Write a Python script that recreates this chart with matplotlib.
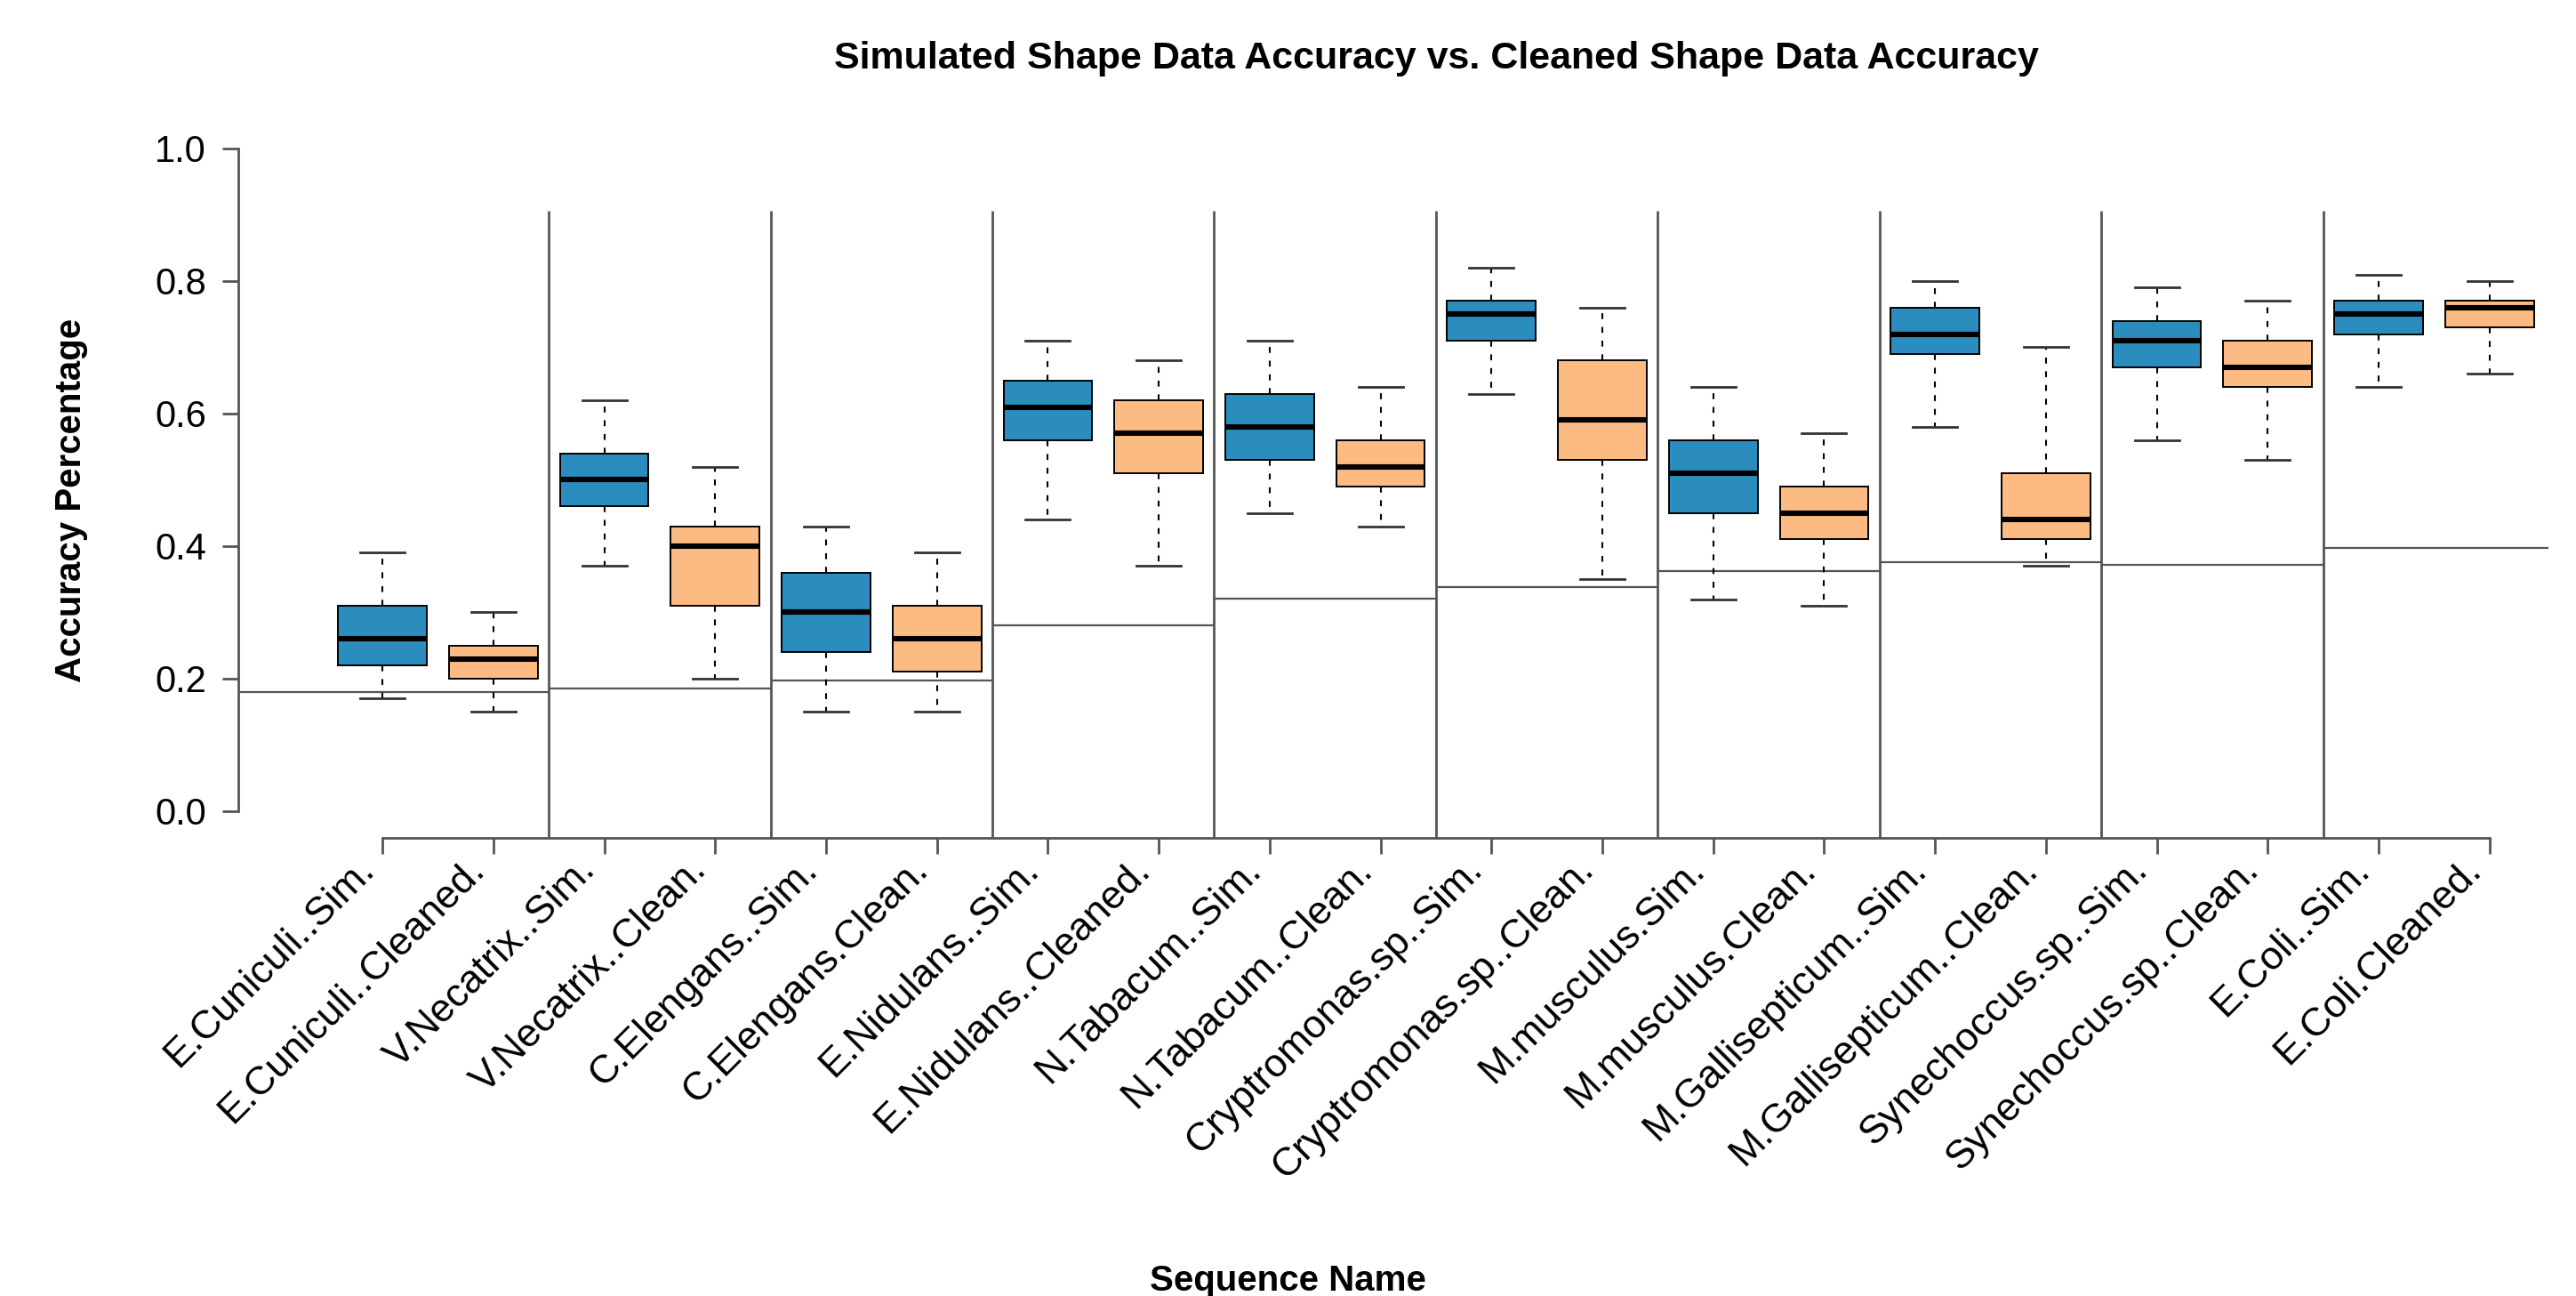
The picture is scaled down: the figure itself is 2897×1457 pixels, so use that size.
import matplotlib
matplotlib.use("Agg")
import matplotlib.pyplot as plt
from matplotlib.transforms import ScaledTranslation

plt.rcParams['font.family'] = ['Liberation Sans', 'DejaVu Sans']

# ---------------- data ----------------
labels = ["E.Cuniculi..Sim.", "E.Cuniculi..Cleaned.", "V.Necatrix..Sim.", "V.Necatrix..Clean.",
          "C.Elengans..Sim.", "C.Elengans.Clean.", "E.Nidulans..Sim.", "E.Nidulans..Cleaned.",
          "N.Tabacum..Sim.", "N.Tabacum..Clean.", "Cryptromonas.sp..Sim.", "Cryptromonas.sp..Clean.",
          "M.musculus.Sim.", "M.musculus.Clean.", "M.Gallisepticum..Sim.", "M.Gallisepticum..Clean.",
          "Synechoccus.sp..Sim.", "Synechoccus.sp..Clean.", "E.Coli..Sim.", "E.Coli.Cleaned."]
whis_low = [0.17, 0.15, 0.37, 0.20, 0.15, 0.15, 0.44, 0.37, 0.45, 0.43,
            0.63, 0.35, 0.32, 0.31, 0.58, 0.37, 0.56, 0.53, 0.64, 0.66]
q1 = [0.22, 0.20, 0.46, 0.31, 0.24, 0.21, 0.56, 0.51, 0.53, 0.49,
      0.71, 0.53, 0.45, 0.41, 0.69, 0.41, 0.67, 0.64, 0.72, 0.73]
median = [0.26, 0.23, 0.50, 0.40, 0.30, 0.26, 0.61, 0.57, 0.58, 0.52,
          0.75, 0.59, 0.51, 0.45, 0.72, 0.44, 0.71, 0.67, 0.75, 0.76]
q3 = [0.31, 0.25, 0.54, 0.43, 0.36, 0.31, 0.65, 0.62, 0.63, 0.56,
      0.77, 0.68, 0.56, 0.49, 0.76, 0.51, 0.74, 0.71, 0.77, 0.77]
whis_high = [0.39, 0.30, 0.62, 0.52, 0.43, 0.39, 0.71, 0.68, 0.71, 0.64,
             0.82, 0.76, 0.64, 0.57, 0.80, 0.70, 0.79, 0.77, 0.81, 0.80]
group_baseline = [0.180, 0.185, 0.197, 0.280, 0.321, 0.338, 0.363, 0.376, 0.372, 0.397]
yticks = [0.0, 0.2, 0.4, 0.6, 0.8, 1.0]
ytick_labels = ["0.0", "0.2", "0.4", "0.6", "0.8", "1.0"]

title = "Simulated Shape Data Accuracy vs. Cleaned Shape Data Accuracy"
xlabel = "Sequence Name"
ylabel = "Accuracy Percentage"

sim_color = "#2B8CBE"
clean_color = "#FDBB84"
line_color = "#555555"

# ---------------- figure ----------------
W, H = 2897, 1457
fig = plt.figure(figsize=(W / 100, H / 100), dpi=100)
ax_left, ax_right, ax_bottom, ax_top = 268, 2897, 941.7, 137.2
ax = fig.add_axes([ax_left / W, (H - ax_bottom) / H, (ax_right - ax_left) / W, (ax_bottom - ax_top) / H])
ax.set_xlim(-0.30, 20.78)
ax.set_ylim(-0.04, 1.04)

positions = list(range(1, len(labels) + 1))
stats = []
for i, lab in enumerate(labels):
    stats.append(dict(label=lab, whislo=whis_low[i], q1=q1[i], med=median[i],
                      q3=q3[i], whishi=whis_high[i], fliers=[]))

bp = ax.bxp(stats, positions=positions, widths=0.8, patch_artist=True,
            showfliers=False,
            boxprops=dict(edgecolor="black", linewidth=1.4),
            medianprops=dict(color="black", linewidth=4.4, solid_capstyle="butt"),
            whiskerprops=dict(color="black", linewidth=1.5, linestyle=(0, (3.2, 4.2))),
            capprops=dict(color="#333333", linewidth=2.0),
            capwidths=0.4)
for i, patch in enumerate(bp["boxes"]):
    patch.set_facecolor(sim_color if i % 2 == 0 else clean_color)

# group separators and baselines
n_groups = len(group_baseline)
seps = [2 * g + 2.5 for g in range(n_groups - 1)]
ax.vlines(seps, -0.04, 0.906, color=line_color, linewidth=2.0, zorder=1)
starts = [-0.30] + [2 * g + 0.5 for g in range(1, n_groups)]
ends = [2 * g + 2.5 for g in range(n_groups)]
ends[-1] = 20.53
ax.hlines(group_baseline, starts, ends, color=line_color, linewidth=1.6, zorder=1)

# axes styling
for s in ["top", "right"]:
    ax.spines[s].set_visible(False)
for s in ["left", "bottom"]:
    ax.spines[s].set_color(line_color)
    ax.spines[s].set_linewidth(2.0)
ax.spines["left"].set_bounds(0, 1)
ax.spines["bottom"].set_bounds(1, 20)

ax.set_yticks(yticks)
ax.set_yticklabels(ytick_labels, fontsize=30)
ax.tick_params(axis="y", length=13, width=2.0, color=line_color, pad=13)

ax.set_xticks(positions)
ax.set_xticklabels(labels, rotation=45, ha="right", va="baseline",
                   rotation_mode="anchor", fontsize=32)
ax.tick_params(axis="x", length=13, width=2.0, color=line_color, pad=14)
offset = ScaledTranslation(-8 / 100, 0, fig.dpi_scale_trans)
for t in ax.get_xticklabels():
    t.set_transform(t.get_transform() + offset)

fig.text(1615 / W, (H - 77) / H, title, ha="center", va="baseline",
         fontsize=31, fontweight="bold")
fig.text(0.5, 6 / H, xlabel, ha="center", va="baseline", fontsize=29, fontweight="bold")
fig.text(80 / W, (H - 562) / H, ylabel, ha="center", va="center", rotation=90,
         fontsize=29, fontweight="bold")

fig.savefig("out.png", dpi=100, facecolor="white")
